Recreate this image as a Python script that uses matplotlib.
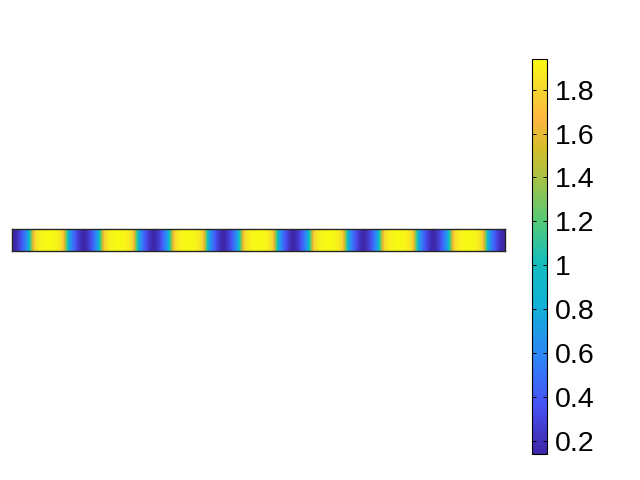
import numpy as np
import matplotlib
import matplotlib.pyplot as plt
from matplotlib.colors import LinearSegmentedColormap

# Using the Agg backend for non-interactive plotting
plt.switch_backend('Agg')
plt.rcParams['font.family'] = ['Liberation Sans', 'DejaVu Sans']

# values along the strip (one row, ~3.5 px per sample)
strip_values = [
    0.14, 0.20, 0.33, 0.50, 0.72, 1.28, 1.80, 1.88, 1.91, 1.93,
    1.94, 1.93, 1.91, 1.88, 1.80, 1.28, 0.72, 0.50, 0.33, 0.20,
    0.14, 0.20, 0.33, 0.50, 0.72, 1.28, 1.80, 1.88, 1.91, 1.93,
    1.94, 1.93, 1.91, 1.88, 1.80, 1.28, 0.72, 0.50, 0.33, 0.20,
    0.14, 0.20, 0.33, 0.50, 0.72, 1.28, 1.80, 1.88, 1.91, 1.93,
    1.94, 1.93, 1.91, 1.88, 1.80, 1.28, 0.72, 0.50, 0.33, 0.20,
    0.14, 0.20, 0.33, 0.50, 0.72, 1.28, 1.80, 1.88, 1.91, 1.93,
    1.94, 1.93, 1.91, 1.88, 1.80, 1.28, 0.72, 0.50, 0.33, 0.20,
    0.14, 0.20, 0.33, 0.50, 0.72, 1.28, 1.80, 1.88, 1.91, 1.93,
    1.94, 1.93, 1.91, 1.88, 1.80, 1.28, 0.72, 0.50, 0.33, 0.20,
    0.14, 0.20, 0.33, 0.50, 0.72, 1.28, 1.80, 1.88, 1.91, 1.93,
    1.94, 1.93, 1.91, 1.88, 1.80, 1.28, 0.72, 0.50, 0.33, 0.20,
    0.14, 0.20, 0.33, 0.50, 0.72, 1.28, 1.80, 1.88, 1.91, 1.93,
    1.94, 1.93, 1.91, 1.88, 1.80, 1.28, 0.72, 0.50, 0.33, 0.20,
    0.14,
]

cbar_ticks = [0.2, 0.4, 0.6, 0.8, 1.0, 1.2, 1.4, 1.6, 1.8]
cbar_labels = ['0.2', '0.4', '0.6', '0.8', '1', '1.2', '1.4', '1.6', '1.8']

# parula-like colormap
parula_pts = [
    (0.000, (0.2422, 0.1504, 0.6603)),
    (0.125, (0.2810, 0.3228, 0.9579)),
    (0.250, (0.1786, 0.5289, 0.9682)),
    (0.375, (0.0689, 0.6948, 0.8394)),
    (0.480, (0.0800, 0.7400, 0.7500)),
    (0.590, (0.3300, 0.7900, 0.4700)),
    (0.700, (0.6600, 0.7600, 0.2700)),
    (0.770, (0.8200, 0.7400, 0.1700)),
    (0.850, (0.9950, 0.7200, 0.2500)),
    (0.920, (0.9600, 0.8300, 0.1900)),
    (1.000, (0.9769, 0.9839, 0.0805)),
]
parula = LinearSegmentedColormap.from_list('parula', parula_pts, N=256)

fig = plt.figure(figsize=(6.4, 4.8), dpi=100)
ax = fig.add_axes([0.01875, 0.4777, 0.7703, 0.0446])
data = np.array(strip_values, dtype=float)[np.newaxis, :]
im = ax.imshow(data, cmap=parula, aspect='auto', interpolation='bilinear',
               interpolation_stage='data', vmin=min(strip_values), vmax=max(strip_values),
               extent=[0, len(strip_values), 0, 1])
ax.set_xticks([])
ax.set_yticks([])
for sp in ax.spines.values():
    sp.set_color('#262626')
    sp.set_linewidth(1.0)

cax = fig.add_axes([0.8320, 0.0542, 0.0234, 0.8229])
cb = fig.colorbar(im, cax=cax)
cb.set_ticks(cbar_ticks)
cb.set_ticklabels(cbar_labels)
cb.outline.set_linewidth(0.8)
cb.outline.set_edgecolor('black')
cax.tick_params(axis='y', direction='in', left=True, right=True, length=3,
                width=0.7, labelsize=20.5, pad=5, colors='black')

fig.savefig('out.png', dpi=100)
plt.close(fig)
